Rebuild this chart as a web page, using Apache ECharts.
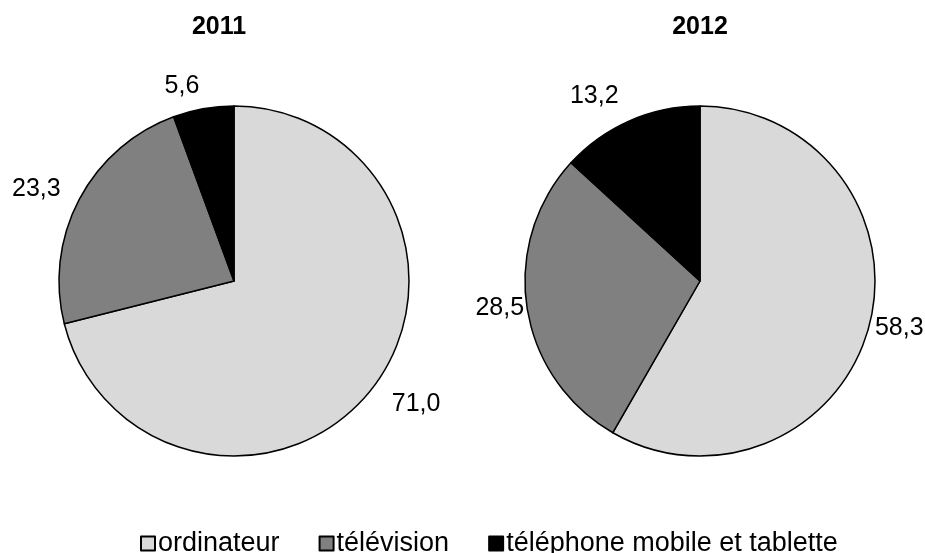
<!DOCTYPE html>
<html>
<head>
<meta charset="utf-8">
<script src="https://cdn.jsdelivr.net/npm/echarts@6/dist/echarts.min.js"></script>
<style>
html,body{margin:0;padding:0;background:#fff;}
#chart{width:925px;height:553px;}
</style>
</head>
<body>
<div id="chart"></div>
<script>
const categories = ['ordinateur', 'télévision', 'téléphone mobile et tablette'];
const values2011 = [71.0, 23.3, 5.6];
const values2012 = [58.3, 28.5, 13.2];
const years = ['2011', '2012'];
const mainTitle = 'Répartition des usages selon leurs appareils (%)';

const colors = ['#d9d9d9', '#808080', '#000000'];
const FONT = '"Liberation Sans", Arial, Helvetica, sans-serif';

// label placement tweaks (style only)
const labelLen = [[25, 21, 23], [6, 3, 27]];

function buildData(vals, si) {
  return categories.map((c, i) => ({
    name: c,
    value: vals[i],
    labelLine: { length: labelLen[si][i], length2: 0, show: false }
  }));
}

function pieSeries(vals, center, si) {
  return {
    type: 'pie',
    center: center,
    radius: 175,
    startAngle: 90,
    clockwise: true,
    avoidLabelOverlap: false,
    silent: true,
    animation: false,
    itemStyle: { borderColor: '#000', borderWidth: 1.5 },
    label: {
      show: true,
      position: 'outside',
      distanceToLabelLine: 0,
      color: '#000',
      fontSize: 25,
      fontFamily: FONT,
      formatter: p => p.value.toFixed(1).replace('.', ',')
    },
    labelLine: { show: false, length: 20, length2: 0 },
    emphasis: { disabled: true },
    data: buildData(vals, si)
  };
}

const chart = echarts.init(document.getElementById('chart'), null, { renderer: 'canvas' });
chart.setOption({
  backgroundColor: '#fff',
  color: colors,
  animation: false,
  legend: {
    data: categories,
    left: 135,
    top: 525,
    icon: 'rect',
    itemWidth: 14,
    itemHeight: 14,
    itemGap: 39,
    textStyle: { fontSize: 27, fontFamily: FONT, color: '#000', padding: [0, 0, 0, -2] },
    selectedMode: false
  },
  graphic: [
    { type: 'text', left: 180, top: -44, style: { text: mainTitle, fontSize: 25, lineHeight: 60, fontWeight: 'bold', fontFamily: FONT, fill: '#000' } },
    { type: 'text', x: 219, y: 27, style: { text: years[0], fontSize: 25, fontWeight: 'bold', fontFamily: FONT, fill: '#000', align: 'center', verticalAlign: 'middle' } },
    { type: 'text', x: 700, y: 27, style: { text: years[1], fontSize: 25, fontWeight: 'bold', fontFamily: FONT, fill: '#000', align: 'center', verticalAlign: 'middle' } }
  ],
  series: [
    pieSeries(values2011, [234, 281], 0),
    pieSeries(values2012, [700, 281], 1)
  ]
});
</script>
</body>
</html>
